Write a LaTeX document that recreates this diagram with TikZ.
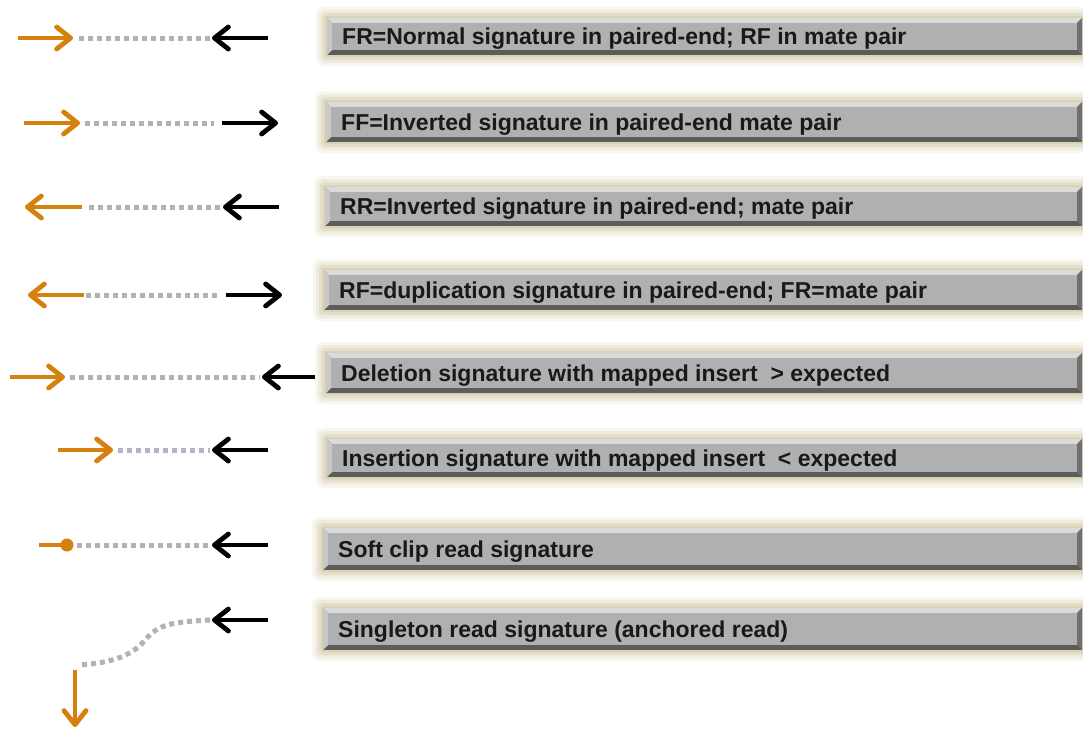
\documentclass[tikz,border=0pt]{standalone}
\usepackage{fontspec}
\setmainfont{Liberation Sans}
\usetikzlibrary{arrows.meta}
\definecolor{org}{RGB}{214,128,14}
\definecolor{dotc}{RGB}{178,178,178}
\definecolor{lavc}{RGB}{186,176,206}
\definecolor{glowc}{RGB}{214,205,172}
\definecolor{bvtop}{RGB}{218,218,218}
\definecolor{bvleft}{RGB}{200,200,200}
\definecolor{bvright}{RGB}{112,112,112}
\definecolor{bvbot}{RGB}{92,92,92}
\definecolor{facec}{RGB}{176,176,176}
\tikzset{
  lbl/.style={anchor=base west, inner sep=0pt, font=\bfseries\fontsize{23}{27}\selectfont, text=black!90},
  oar/.style={draw=org, line width=4.8pt, -{Straight Barb[length=14pt,width=22pt,round]}},
  bar/.style={draw=black, line width=4.8pt, -{Straight Barb[length=14pt,width=22pt,round]}},
  oline/.style={draw=org, line width=4.8pt},
  dotl/.style={draw=dotc, line width=5pt, dash pattern=on 5pt off 4pt},
  lavl/.style={draw=lavc, line width=5pt, dash pattern=on 5pt off 4pt},
}
\newcommand\sigbar[5]{%
  \fill[glowc!18, rounded corners=8pt] ({#2-11},{#3-11}) rectangle (1095,{#4+11});
  \fill[glowc!40, rounded corners=6pt] ({#2-8},{#3-8}) rectangle (1095,{#4+8});
  \fill[glowc!65, rounded corners=4pt] ({#2-5},{#3-5}) rectangle (1095,{#4+5});
  \fill[glowc!90, rounded corners=2pt] ({#2-2},{#3-2}) rectangle (1095,{#4+2});
  \fill[bvbot] (#2,#3) rectangle (1082,#4);
  \fill[bvtop] (#2,#3) -- (1082,#3) -- (1077,{#3+5}) -- ({#2+5},{#3+5}) -- cycle;
  \fill[bvleft] (#2,#3) -- ({#2+5},{#3+5}) -- ({#2+5},{#4-5}) -- (#2,#4) -- cycle;
  \fill[bvright] (1082,#3) -- (1082,#4) -- (1077,{#4-5}) -- (1077,{#3+5}) -- cycle;
  \fill[facec] ({#2+5},{#3+5}) rectangle (1077,{#4-5});
  \node[lbl] (#1) at ({#2+15},{(#3+#4)/2+8.3}) {#5};
}
\begin{document}
\begin{tikzpicture}[x=1pt,y=-1pt]
\useasboundingbox (0,0) rectangle (1083,729);
\clip (0,0) rectangle (1083,729);
\fill[white] (0,0) rectangle (1083,729);

% boxes
\sigbar{t1}{327}{18}{55}{FR=Normal signature in paired-end; RF in mate pair}
\sigbar{t2}{326}{102}{142}{FF=Inverted signature in paired-end mate pair}
\sigbar{t3}{325}{187}{226}{RR=Inverted signature in paired-end; mate pair}
\sigbar{t4}{324}{270}{310}{RF=duplication signature in paired-end; FR=mate pair}
\sigbar{t5}{326}{353}{393}{Deletion signature with mapped insert\ \ > expected}
\sigbar{t6}{327}{439}{477}{Insertion signature with mapped insert\ \ < expected}
\sigbar{t7}{323}{528}{570}{Soft clip read signature}
\sigbar{t8}{323}{608}{650}{Singleton read signature (anchored read)}

% row 1
\draw[dotl] (79,38) -- (210,38);
\draw[oar] (18,38) -- (73,38);
\draw[bar] (268,38) -- (212,38);
% row 2
\draw[dotl] (85,123) -- (214,123);
\draw[oar] (24,123) -- (80,123);
\draw[bar] (222,123) -- (278,123);
% row 3
\draw[dotl] (89,207) -- (222,207);
\draw[oar] (82,207) -- (25,207);
\draw[bar] (279,207) -- (223,207);
% row 4
\draw[dotl] (86,295) -- (218,295);
\draw[oar] (84,295) -- (28,295);
\draw[bar] (226,295) -- (282,295);
% row 5
\draw[dotl] (70,377) -- (260,377);
\draw[oar] (10,377) -- (65,377);
\draw[bar] (315,377) -- (262,377);
% row 6
\draw[lavl] (118,450) -- (210,450);
\draw[oar] (58,450) -- (113,450);
\draw[bar] (268,450) -- (212,450);
% row 7
\draw[dotl] (77,545) -- (210,545);
\draw[oline] (39,545) -- (67,545);
\fill[org] (67,545) circle (6.5);
\draw[bar] (268,545) -- (212,545);
% row 8
\draw[dotl] (210,620) .. controls (170,622) and (158,625) .. (146,639) .. controls (134,654) and (115,663) .. (78,665);
\draw[bar] (268,620) -- (212,620);
\draw[oar] (75,670) -- (75,727);
\end{tikzpicture}
\end{document}
